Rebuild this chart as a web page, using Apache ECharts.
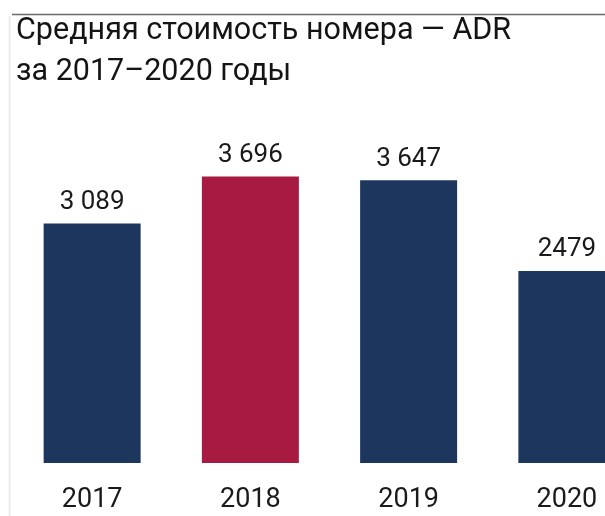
<!DOCTYPE html>
<html>
<head>
<meta charset="utf-8">
<script src="https://cdn.jsdelivr.net/npm/echarts@6/dist/echarts.min.js"></script>
<style>
  html, body { margin: 0; padding: 0; background: #fff; }
  #chart { width: 605px; height: 516px; }
</style>
</head>
<body>
<div id="chart"></div>
<script>
// Average room rate (ADR), 2017–2020
const years = ['2017', '2018', '2019', '2020'];
const adr = [3089, 3696, 3647, 2479];
const valueLabels = ['3 089', '3 696', '3 647', '2479'];
const highlightYear = '2018';

const NAVY = '#1d365d';
const CRIMSON = '#a71b43';
const FONT = 'Roboto, "Noto Sans", sans-serif';

const chart = echarts.init(document.getElementById('chart'), null, { renderer: 'canvas' });

chart.setOption({
  animation: false,
  backgroundColor: '#fff',
  title: {
    text: 'Средняя стоимость номера — ADR\nза 2017–2020 годы',
    left: 11,
    top: 6,
    textStyle: {
      fontFamily: FONT,
      fontSize: 30.5,
      fontWeight: 'normal',
      color: '#141414',
      lineHeight: 41
    }
  },
  graphic: [
    { type: 'line', shape: { x1: 12, y1: 14.5, x2: 605, y2: 14.5 }, style: { stroke: '#6a6a6a', lineWidth: 1.5 }, z: 10 },
    { type: 'line', shape: { x1: 9.5, y1: 16, x2: 9.5, y2: 516 }, style: { stroke: '#ececec', lineWidth: 2 } }
  ],
  // the last column runs past the right edge of the canvas
  grid: { left: 13, right: -41, top: 153, bottom: 53, containLabel: false, outerBoundsMode: 'none' },
  xAxis: {
    type: 'category',
    data: years,
    axisLine: { show: false },
    axisTick: { show: false },
    axisLabel: {
      margin: 24,
      fontFamily: FONT,
      fontSize: 27,
      color: '#1a1a1a'
    }
  },
  yAxis: {
    type: 'value',
    min: 0,
    max: 4000,
    show: false,
    splitLine: { show: false }
  },
  series: [{
    type: 'bar',
    barWidth: 97,
    data: adr.map((v, i) => ({
      value: v,
      itemStyle: { color: years[i] === highlightYear ? CRIMSON : NAVY }
    })),
    label: {
      show: true,
      position: 'top',
      distance: 8,
      fontFamily: FONT,
      fontSize: 26,
      color: '#1a1a1a',
      formatter: p => valueLabels[p.dataIndex]
    }
  }]
});
</script>
</body>
</html>
